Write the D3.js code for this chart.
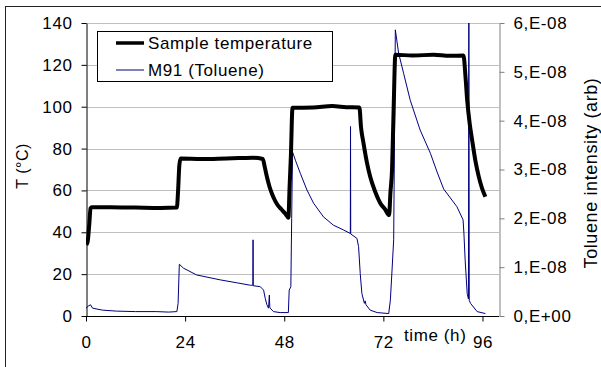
<!DOCTYPE html>
<html>
<head>
<meta charset="utf-8">
<script src="https://cdn.jsdelivr.net/npm/d3@7/dist/d3.min.js"></script>
<style>
  html, body { margin: 0; padding: 0; background: #fff; }
  svg { display: block; }
  text { font-family: "Liberation Sans", Arial, sans-serif; fill: #000; }
</style>
</head>
<body>
<svg id="chart" width="601" height="367"></svg>
<script>
// ---- data ----
const xTicks = [0, 24, 48, 72, 96];
const leftTicks = [0, 20, 40, 60, 80, 100, 120, 140];
const rightTicks = [0, 1e-8, 2e-8, 3e-8, 4e-8, 5e-8, 6e-8];
const rightTickLabels = ["0,E+00", "1,E-08", "2,E-08", "3,E-08", "4,E-08", "5,E-08", "6,E-08"];

const tempTime = [0.1, 0.4, 0.8, 1.1, 1.4, 6, 12, 18, 22.0, 22.3, 22.6, 22.9, 28, 34, 38, 40.5, 42.8, 43.3, 43.8, 44.4, 45.0, 45.8, 46.6, 47.3, 48.0, 48.6, 49.0, 49.3, 49.6, 50.0, 55, 59.6, 63, 66.2, 66.6, 67.2, 68.0, 68.8, 70.0, 71.3, 72.4, 73.4, 73.7, 74.1, 74.5, 74.9, 79, 84.2, 88, 91.4, 91.9, 92.3, 92.9, 93.5, 94.3, 95.1, 95.9, 96.7];
const tempVal  = [34, 35.5, 44, 51.5, 52, 52, 51.8, 51.6, 51.8, 60, 72, 75.2, 75, 75.3, 75.5, 75.6, 75, 71, 66.5, 62, 58.5, 55, 52.5, 51, 49.5, 48, 47, 62, 76, 99.5, 99.6, 100.3, 99.8, 99.6, 90, 82.5, 73.5, 66.6, 59.5, 53.8, 51, 48.2, 58.6, 69.8, 100, 124.8, 124.5, 124.8, 124.3, 124.5, 114, 103, 92, 84, 74, 66.6, 61, 57];

const tolTime = [0, 0.5, 1.1, 1.6, 4, 7.4, 12, 17, 20, 22.0, 22.3, 22.6, 23.6, 26.8, 32.5, 36.5, 39.8, 40.4, 40.45, 40.5, 42.2, 43.0, 43.4, 43.8, 44.2, 44.4, 44.5, 44.6, 45.4, 47, 49.0, 49.2, 49.6, 49.8, 50.0, 50.7, 51.9, 53.5, 55.1, 57.5, 59.9, 62.4, 64.0, 64.05, 64.1, 65.6, 66.0, 66.4, 66.8, 67.4, 67.6, 67.8, 68.8, 70.5, 73.3, 73.7, 74.1, 74.5, 74.9, 75.7, 76.9, 78.5, 80.9, 83.4, 85.0, 86.6, 89.8, 91.3, 91.5, 91.8, 92.3, 92.6, 92.7, 92.8, 93.1, 94.7, 96.7];
const tolVal = [0.16e-8, 0.20e-8, 0.23e-8, 0.16e-8, 0.12e-8, 0.10e-8, 0.09e-8, 0.09e-8, 0.08e-8, 0.09e-8, 0.26e-8, 1.06e-8, 0.98e-8, 0.84e-8, 0.74e-8, 0.68e-8, 0.63e-8, 0.63e-8, 1.56e-8, 0.62e-8, 0.60e-8, 0.53e-8, 0.36e-8, 0.23e-8, 0.16e-8, 0.43e-8, 0.18e-8, 0.16e-8, 0.09e-8, 0.07e-8, 0.07e-8, 0.53e-8, 0.60e-8, 2.0e-8, 3.36e-8, 3.19e-8, 2.92e-8, 2.58e-8, 2.31e-8, 2.03e-8, 1.86e-8, 1.76e-8, 1.69e-8, 3.88e-8, 1.68e-8, 1.59e-8, 1.42e-8, 0.87e-8, 0.46e-8, 0.26e-8, 0.31e-8, 0.23e-8, 0.12e-8, 0.07e-8, 0.05e-8, 0.33e-8, 0.94e-8, 1.56e-8, 5.86e-8, 5.38e-8, 4.97e-8, 4.42e-8, 3.81e-8, 3.33e-8, 2.95e-8, 2.60e-8, 2.24e-8, 1.97e-8, 1.70e-8, 1.15e-8, 0.46e-8, 0.35e-8, 6.0e-8, 0.32e-8, 0.26e-8, 0.09e-8, 0.05e-8];

const seriesNames = ["Sample temperature", "M91 (Toluene)"];
const seriesColors = ["#000000", "#000080"];

// ---- layout ----
const svg = d3.select("#chart");
const x = d3.scaleLinear().domain([0, 100]).range([86, 499]);
const yL = d3.scaleLinear().domain([0, 140]).range([316, 23]);
const yR = d3.scaleLinear().domain([0, 6e-8]).range([316, 23]);

const fs = "17px";
const ls = "0.6px";

// outer frame
svg.append("rect").attr("x", 5.5).attr("y", 6.5).attr("width", 700).attr("height", 500)
  .attr("fill", "none").attr("stroke", "#222").attr("stroke-width", 1);

// gridlines
svg.append("g").selectAll("line").data(leftTicks.filter(d => d > 0)).join("line")
  .attr("x1", x(0)).attr("x2", x(100))
  .attr("y1", d => Math.round(yL(d)) + 0.5).attr("y2", d => Math.round(yL(d)) + 0.5)
  .attr("stroke", "#c0c0c0").attr("stroke-width", 1);

// axes
const gL = svg.append("g").attr("transform", "translate(86.5,0)")
  .call(d3.axisLeft(yL).tickValues(leftTicks).tickSize(5).tickPadding(9).tickSizeOuter(0));
gL.select(".domain").attr("stroke", "#000");
gL.selectAll(".tick line").attr("stroke", "#000");
gL.selectAll(".tick text").style("font-size", fs).style("letter-spacing", ls).attr("font-family", null);

const gR = svg.append("g").attr("transform", "translate(499.5,0)")
  .call(d3.axisRight(yR).tickValues(rightTicks).tickSize(5).tickPadding(9).tickSizeOuter(0)
    .tickFormat((d, i) => rightTickLabels[i]));
gR.select(".domain").attr("stroke", "#808080");
gR.selectAll(".tick line").attr("stroke", "#808080");
gR.selectAll(".tick text").style("font-size", fs).style("letter-spacing", ls).attr("font-family", null);

const gX = svg.append("g").attr("transform", "translate(0,316.5)")
  .call(d3.axisBottom(x).tickValues(xTicks).tickSize(5).tickPadding(14).tickSizeOuter(0));
gX.select(".domain").attr("stroke", "#000").attr("d", "M" + x(0) + ",0H" + x(100));
gX.selectAll(".tick line").attr("stroke", "#000");
gX.selectAll(".tick text").style("font-size", fs).style("letter-spacing", ls).attr("font-family", null);

// axis titles
svg.append("text").attr("transform", "translate(28,166) rotate(-90)")
  .attr("text-anchor", "middle").style("font-size", "16px").style("letter-spacing", "0.5px").text("T (°C)");
svg.append("text").attr("transform", "translate(597,173) rotate(-90)")
  .attr("text-anchor", "middle").style("font-size", "18px").style("letter-spacing", "0.6px").text("Toluene intensity (arb)");
svg.append("text").attr("x", 404).attr("y", 341)
  .style("font-size", fs).style("letter-spacing", ls).text("time (h)");

// clip
svg.append("clipPath").attr("id", "plotclip").append("rect")
  .attr("x", 86).attr("y", 22).attr("width", 413).attr("height", 295);

const tempData = tempTime.map((t, i) => [t, tempVal[i]]);
const tolData = tolTime.map((t, i) => [t, tolVal[i]]);

const plot = svg.append("g").attr("clip-path", "url(#plotclip)");
plot.append("path").datum(tolData)
  .attr("fill", "none").attr("stroke", seriesColors[1]).attr("stroke-width", 1)
  .attr("d", d3.line().x(d => x(d[0])).y(d => yR(d[1])));
plot.append("path").datum(tempData)
  .attr("fill", "none").attr("stroke", seriesColors[0]).attr("stroke-width", 4)
  .attr("stroke-linejoin", "round")
  .attr("d", d3.line().curve(d3.curveMonotoneX).x(d => x(d[0])).y(d => yL(d[1])));

// legend
const lg = svg.append("g");
lg.append("rect").attr("x", 97.5).attr("y", 31.5).attr("width", 235).attr("height", 50)
  .attr("fill", "#fff").attr("stroke", "#000").attr("stroke-width", 1);
const rows = [{ y: 43, w: 3.5, ty: 49 }, { y: 70, w: 1, ty: 76 }];
rows.forEach((r, i) => {
  lg.append("line").attr("x1", 116).attr("x2", 144).attr("y1", r.y).attr("y2", r.y)
    .attr("stroke", seriesColors[i]).attr("stroke-width", r.w);
  lg.append("text").attr("x", 148).attr("y", r.ty).style("font-size", fs).style("letter-spacing", ls).text(seriesNames[i]);
});
</script>
</body>
</html>
